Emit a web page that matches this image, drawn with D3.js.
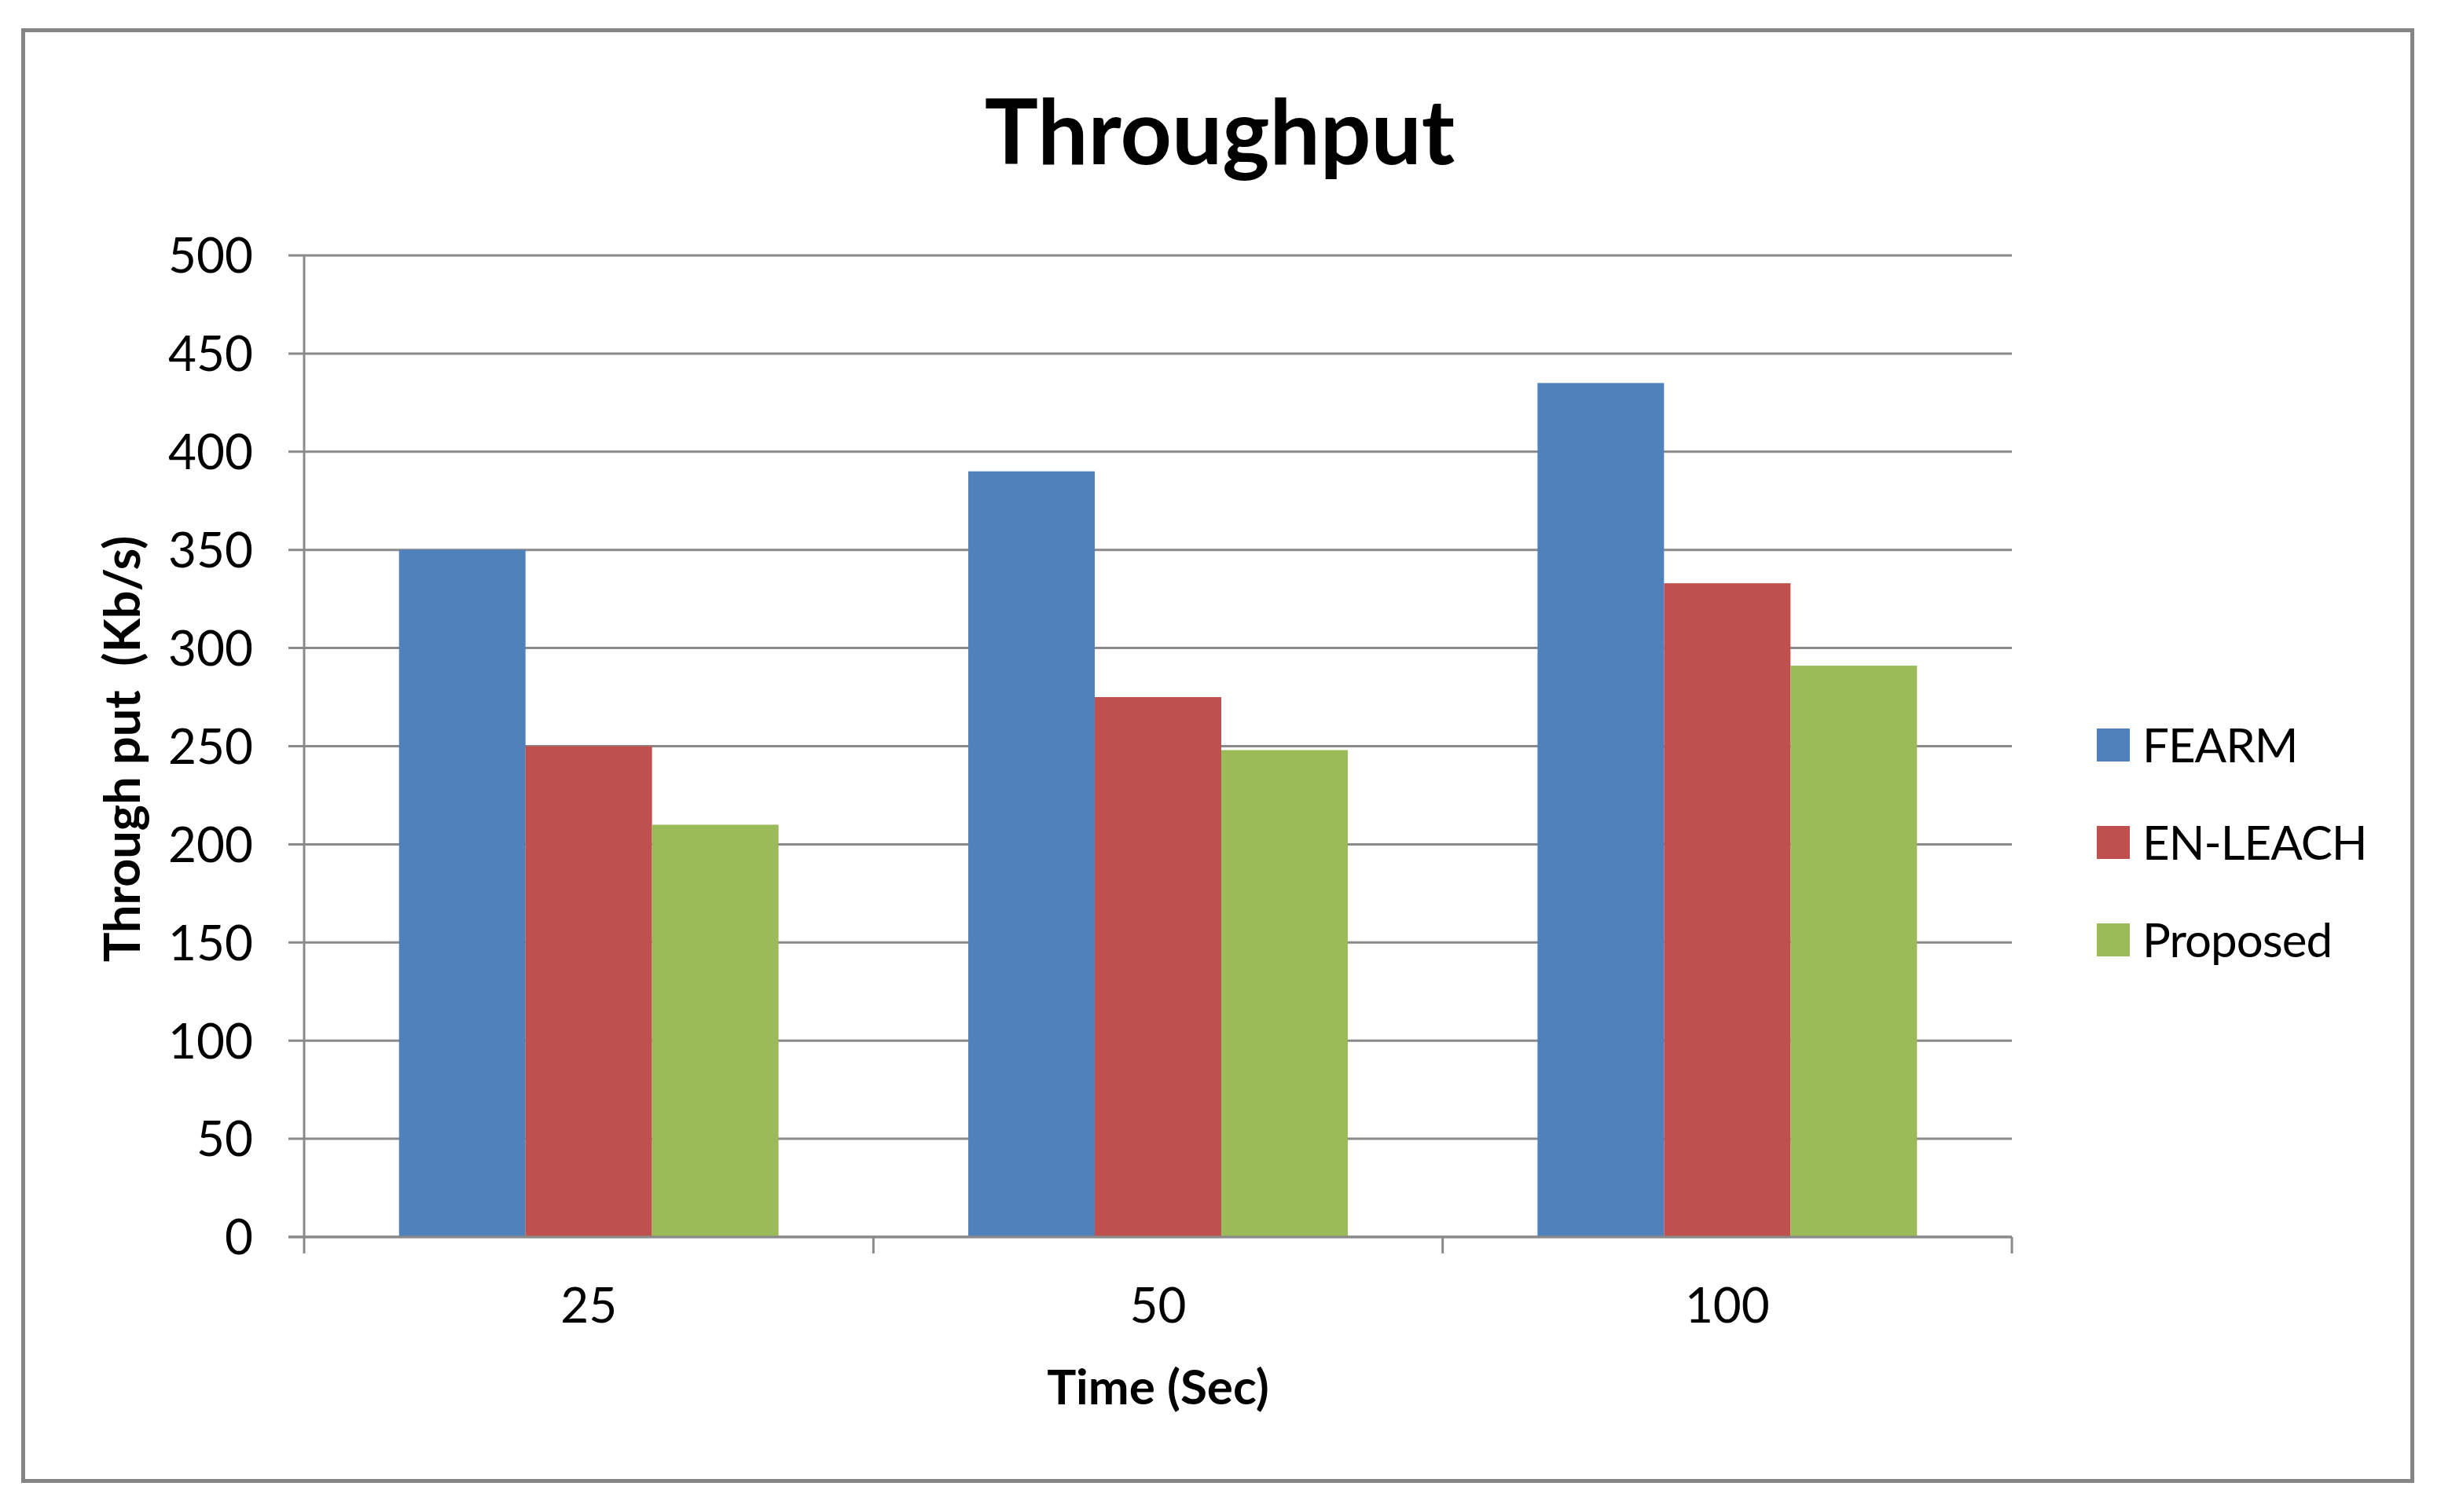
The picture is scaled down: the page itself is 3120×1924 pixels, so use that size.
<!DOCTYPE html>
<html lang="en">
<head>
    <meta charset="UTF-8">
    <title>Throughput</title>
    <style>
        body {
            margin: 0;
            background: #fff;
        }
        svg text {
            font-family: Lato, "Open Sans", Arial, sans-serif;
            fill: #000;
        }
        .grid line {
            stroke: #8a8a8a;
            stroke-width: 3px;
        }
        .axis path, .axis line {
            stroke: #8a8a8a;
            stroke-width: 3px;
        }
    </style>
    <script src="https://d3js.org/d3.v7.min.js"></script>
</head>
<body>
    <div id="chart"></div>

    <script>
        // Data
        const categories = ["25", "50", "100"];
        const seriesNames = ["FEARM", "EN-LEACH", "Proposed"];
        const fearm = [350, 390, 435];
        const enLeach = [250, 275, 333];
        const proposed = [210, 248, 291];
        const yTicks = [0, 50, 100, 150, 200, 250, 300, 350, 400, 450, 500];
        const colors = ["#4f81bd", "#c0504d", "#9bbb59"];

        const seriesValues = [fearm, enLeach, proposed];

        const width = 3120;
        const height = 1924;
        const plot = { left: 387, right: 2560, top: 325, bottom: 1574 };

        const svg = d3.select("#chart")
            .append("svg")
            .attr("width", width)
            .attr("height", height);

        svg.append("rect")
            .attr("width", width)
            .attr("height", height)
            .attr("fill", "#fff");

        // Outer frame
        svg.append("rect")
            .attr("x", 29.5)
            .attr("y", 38.5)
            .attr("width", 3040)
            .attr("height", 1846)
            .attr("fill", "#fff")
            .attr("stroke", "#858585")
            .attr("stroke-width", 5);

        // Scales
        const x0 = d3.scaleBand()
            .domain(categories)
            .range([plot.left, plot.right])
            .paddingInner(1 / 3)
            .paddingOuter(1 / 6);

        const x1 = d3.scaleBand()
            .domain(seriesNames)
            .range([0, x0.bandwidth()]);

        const y = d3.scaleLinear()
            .domain([0, 500])
            .range([plot.bottom, plot.top]);

        // Gridlines
        svg.append("g")
            .attr("class", "grid")
            .selectAll("line")
            .data(yTicks)
            .enter()
            .append("line")
            .attr("x1", plot.left - 20)
            .attr("x2", plot.right)
            .attr("y1", d => y(d))
            .attr("y2", d => y(d));

        // Y axis line + labels
        svg.append("line")
            .attr("x1", plot.left)
            .attr("x2", plot.left)
            .attr("y1", plot.top)
            .attr("y2", plot.bottom)
            .attr("stroke", "#8a8a8a")
            .attr("stroke-width", 3);

        svg.append("g")
            .selectAll("text")
            .data(yTicks)
            .enter()
            .append("text")
            .attr("x", 322)
            .attr("y", d => y(d))
            .attr("dy", "0.36em")
            .attr("text-anchor", "end")
            .attr("font-size", 62)
            .text(d => d);

        // Bars
        const groups = svg.append("g")
            .selectAll("g")
            .data(categories)
            .enter()
            .append("g")
            .attr("transform", d => `translate(${x0(d)},0)`);

        groups.selectAll("rect")
            .data((d, i) => seriesNames.map((s, j) => ({ name: s, value: seriesValues[j][i], color: colors[j] })))
            .enter()
            .append("rect")
            .attr("x", d => x1(d.name))
            .attr("width", x1.bandwidth())
            .attr("y", d => y(d.value))
            .attr("height", d => y(0) - y(d.value))
            .attr("fill", d => d.color);

        // X axis
        const xAxis = svg.append("g")
            .attr("class", "axis")
            .attr("transform", `translate(0,${plot.bottom})`);

        xAxis.append("line")
            .attr("x1", plot.left - 20)
            .attr("x2", plot.right)
            .attr("y1", 0)
            .attr("y2", 0);

        const step = x0.step();
        const boundaries = [plot.left].concat(categories.map((c, i) => plot.left + step * (i + 1)));
        xAxis.selectAll(".xtick")
            .data(boundaries)
            .enter()
            .append("line")
            .attr("class", "xtick")
            .attr("x1", d => d)
            .attr("x2", d => d)
            .attr("y1", 0)
            .attr("y2", 21);

        xAxis.selectAll("text")
            .data(categories)
            .enter()
            .append("text")
            .attr("x", d => x0(d) + x0.bandwidth() / 2)
            .attr("y", 109)
            .attr("text-anchor", "middle")
            .attr("font-size", 62)
            .text(d => d);

        // Title and axis titles
        svg.append("text")
            .attr("x", 1552)
            .attr("y", 209)
            .attr("text-anchor", "middle")
            .attr("font-size", 114)
            .attr("font-weight", "bold")
            .text("Throughput");

        svg.append("text")
            .attr("x", (plot.left + plot.right) / 2)
            .attr("y", 1787)
            .attr("text-anchor", "middle")
            .attr("font-size", 62)
            .attr("font-weight", "bold")
            .text("Time (Sec)");

        svg.append("text")
            .attr("transform", "translate(178,953) rotate(-90)")
            .attr("text-anchor", "middle")
            .attr("font-size", 63)
            .attr("font-weight", "bold")
            .style("white-space", "pre")
            .text("Through put  (Kb/s)");

        // Legend
        const legend = svg.append("g")
            .selectAll("g")
            .data(seriesNames)
            .enter()
            .append("g")
            .attr("transform", (d, i) => `translate(2668,${948 + i * 124})`);

        legend.append("rect")
            .attr("x", 0)
            .attr("y", -21)
            .attr("width", 42)
            .attr("height", 42)
            .attr("fill", (d, i) => colors[i]);

        legend.append("text")
            .attr("x", 58)
            .attr("y", 0)
            .attr("dy", "0.36em")
            .attr("font-size", 60)
            .attr("letter-spacing", -1)
            .text(d => d);
    </script>
</body>
</html>
